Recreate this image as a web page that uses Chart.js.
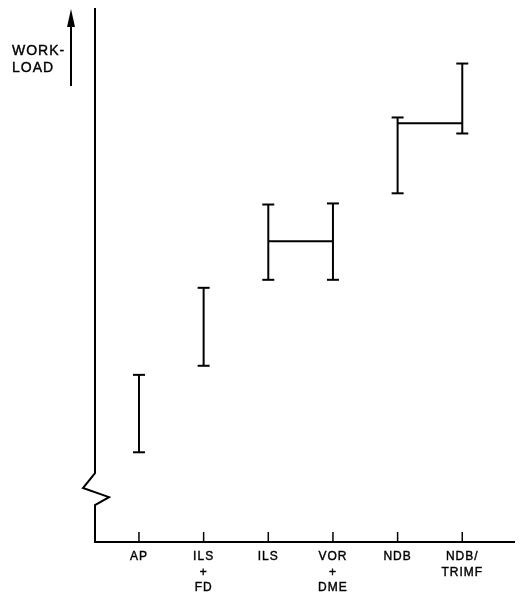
<!DOCTYPE html>
<html>
<head>
<meta charset="utf-8">
<script src="https://cdn.jsdelivr.net/npm/chart.js@4.4.1/dist/chart.umd.min.js"></script>
<style>
  html, body { margin: 0; padding: 0; background: #fff; }
  #c { display: block; }
</style>
</head>
<body>
<canvas id="c" width="522" height="601"></canvas>
<script>
// ---- data (arbitrary workload units, 0-100) ----
const categories = [["AP"], ["ILS", "+", "FD"], ["ILS"], ["VOR", "+", "DME"], ["NDB"], ["NDB/", "TRIMF"]];
const workloadLow  = [16.8, 33.0, 49.1, 49.1, 65.3, 76.5];
const workloadHigh = [31.3, 47.6, 63.2, 63.4, 79.5, 89.6];
// horizontal links between pairs of categories (1-based positions)
const linkFrom  = [3, 5];
const linkTo    = [4, 6];
const linkLevel = [56.3, 78.4];
// axis break (zigzag) levels on the workload axis
const breakLevels = [12.9, 10.1, 8.4, 6.9];
const axisTitle = ["WORK-", "LOAD"];

const FONT = "'Liberation Sans', Arial, Helvetica, sans-serif";

const datasets = [];
categories.forEach((c, i) => {
  datasets.push({
    type: 'line',
    data: [{x: i + 1, y: workloadLow[i]}, {x: i + 1, y: workloadHigh[i]}],
    borderColor: '#000',
    borderWidth: 2,
    pointStyle: 'line',
    pointRadius: 6,
    pointBorderWidth: 2,
    pointBorderColor: '#000',
    pointHoverRadius: 6,
    fill: false,
    clip: false
  });
});
linkFrom.forEach((f, i) => {
  datasets.push({
    type: 'line',
    data: [{x: f, y: linkLevel[i]}, {x: linkTo[i], y: linkLevel[i]}],
    borderColor: '#000',
    borderWidth: 2,
    pointRadius: 0,
    fill: false,
    clip: false
  });
});

const axisPlugin = {
  id: 'axisDecor',
  beforeDraw(chart) {
    chart.ctx.letterSpacing = '1px';
  },
  afterDraw(chart) {
    const {ctx, chartArea: a, scales: {x, y}} = chart;
    ctx.save();
    ctx.strokeStyle = '#000';
    ctx.fillStyle = '#000';
    ctx.lineWidth = 2;
    ctx.lineJoin = 'miter';
    // y axis with zigzag break
    const L = a.left;
    ctx.beginPath();
    ctx.moveTo(L, a.top);
    ctx.lineTo(L, y.getPixelForValue(breakLevels[0]));
    ctx.lineTo(L - 12, y.getPixelForValue(breakLevels[1]));
    ctx.lineTo(L + 14, y.getPixelForValue(breakLevels[2]));
    ctx.lineTo(L, y.getPixelForValue(breakLevels[3]));
    ctx.lineTo(L, a.bottom + 1);
    ctx.stroke();
    // upward tick marks on x axis
    ctx.lineWidth = 1.5;
    x.ticks.forEach(t => {
      const px = x.getPixelForValue(t.value);
      ctx.beginPath();
      ctx.moveTo(px, a.bottom);
      ctx.lineTo(px, a.bottom - 10);
      ctx.stroke();
    });
    // workload arrow
    const ax = 71;
    ctx.lineWidth = 2;
    ctx.beginPath();
    ctx.moveTo(ax, 86);
    ctx.lineTo(ax, 22);
    ctx.stroke();
    ctx.beginPath();
    ctx.moveTo(ax, 9);
    ctx.lineTo(ax - 4, 27);
    ctx.lineTo(ax + 4, 27);
    ctx.closePath();
    ctx.fill();
    // axis title
    ctx.letterSpacing = '1px';
    ctx.font = '14px ' + FONT;
    ctx.textAlign = 'left';
    ctx.textBaseline = 'middle';
    ctx.lineWidth = 0.4;
    ctx.fillText(axisTitle[0], 12, 51);
    ctx.strokeText(axisTitle[0], 12, 51);
    ctx.fillText(axisTitle[1], 12, 68);
    ctx.strokeText(axisTitle[1], 12, 68);
    ctx.restore();
    ctx.letterSpacing = '0px';
  }
};

new Chart(document.getElementById('c'), {
  type: 'line',
  data: { datasets },
  options: {
    responsive: false,
    animation: false,
    devicePixelRatio: 1,
    layout: { padding: { left: 95, right: 7, top: 6, bottom: 0 } },
    plugins: { legend: { display: false }, tooltip: { enabled: false } },
    events: [],
    scales: {
      x: {
        type: 'linear',
        min: 0.32,
        max: 6.80,
        afterBuildTicks(scale) {
          scale.ticks = categories.map((_, i) => ({ value: i + 1 }));
        },
        afterFit(scale) { scale.height = 59; },
        grid: { display: true, drawOnChartArea: false, drawTicks: false },
        border: { display: true, color: '#000', width: 2 },
        ticks: {
          autoSkip: false,
          maxRotation: 0,
          minRotation: 0,
          padding: 7,
          color: '#000',
          textStrokeColor: '#000',
          textStrokeWidth: 0.4,
          font: { family: FONT, size: 12, lineHeight: 1.3 },
          callback: (v) => categories[Math.round(v) - 1]
        }
      },
      y: {
        type: 'linear',
        min: 0,
        max: 100,
        display: false
      }
    }
  },
  plugins: [axisPlugin]
});
</script>
</body>
</html>
